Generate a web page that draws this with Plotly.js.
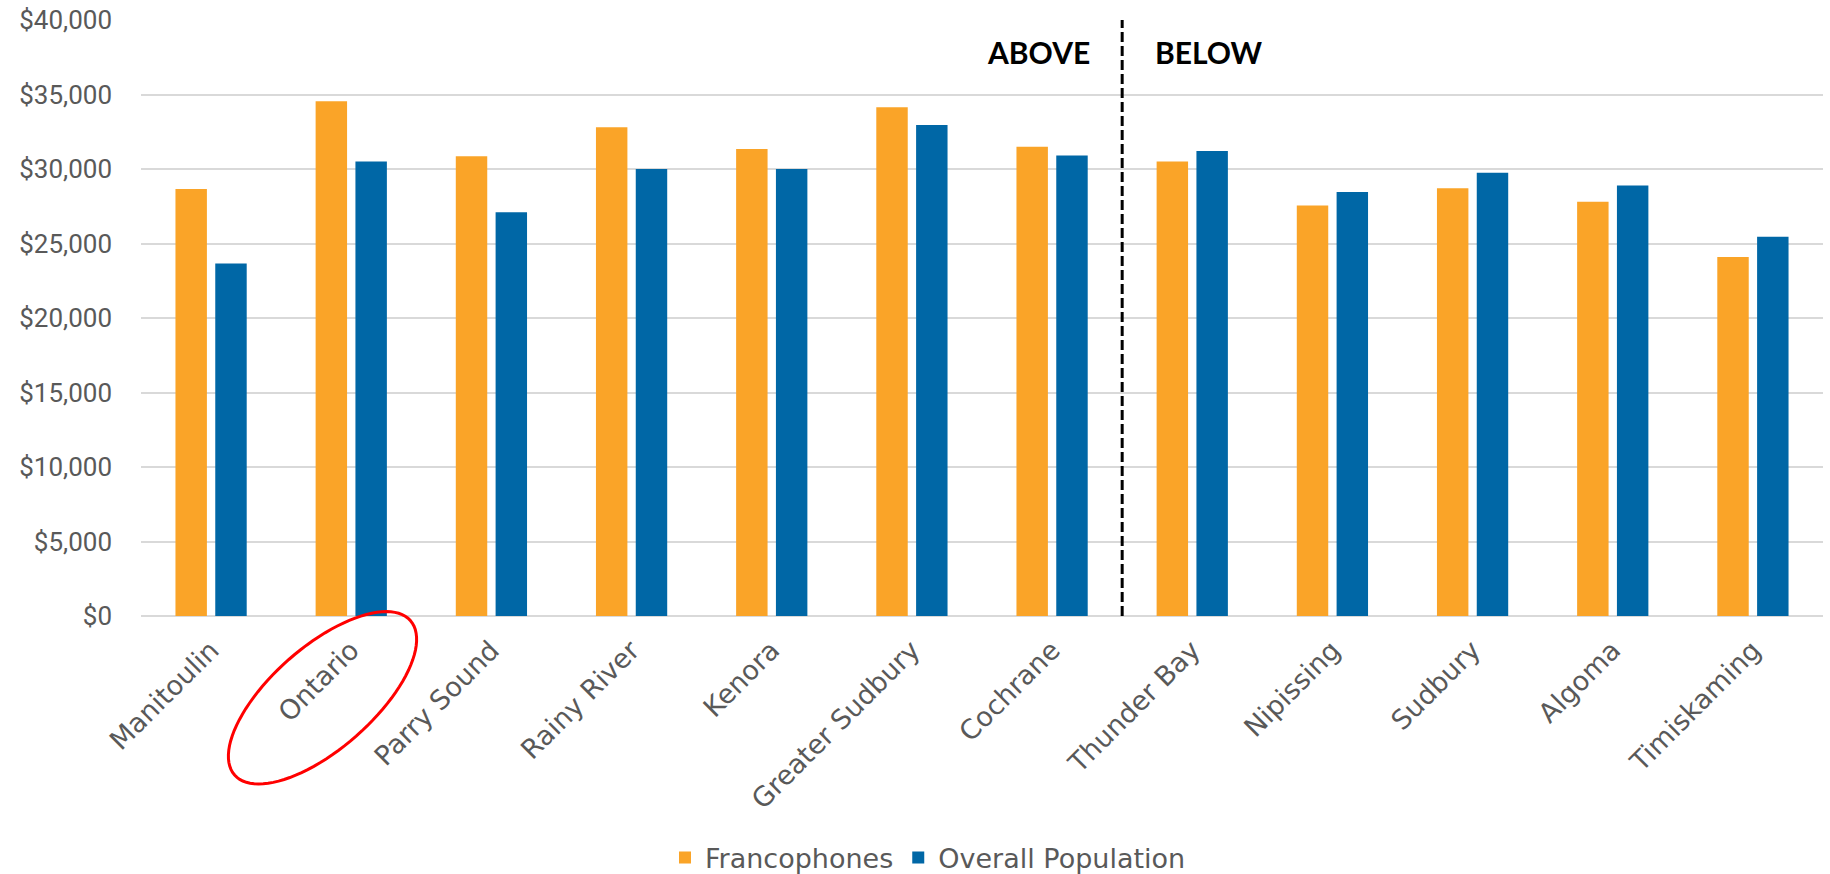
<!DOCTYPE html>
<html>
<head>
<meta charset="utf-8">
<script src="https://cdn.plot.ly/plotly-3.0.1.min.js"></script>
<style>
  html, body { margin: 0; padding: 0; background: #ffffff; }
  #chart { width: 1830px; height: 874px; }
</style>
</head>
<body>
<div id="chart"></div>
<script>
// ---- Data ----
const categories = ['Manitoulin', 'Ontario', 'Parry Sound', 'Rainy River', 'Kenora', 'Greater Sudbury',
                    'Cochrane', 'Thunder Bay', 'Nipissing', 'Sudbury', 'Algoma', 'Timiskaming'];
const francophones = [28650, 34550, 30850, 32800, 31350, 34150, 31500, 30500, 27550, 28700, 27800, 24100];
const overallPopulation = [23650, 30500, 27100, 30000, 30000, 32950, 30900, 31200, 28450, 29750, 28900, 25450];
const seriesNames = ['Francophones', 'Overall Population'];
const yTickValues = [0, 5000, 10000, 15000, 20000, 25000, 30000, 35000, 40000];
const yTickLabels = ['$0', '$5,000', '$10,000', '$15,000', '$20,000', '$25,000', '$30,000', '$35,000', '$40,000'];
const sideLabels = ['ABOVE', 'BELOW'];
const dividerPosition = 6.5; // between Cochrane and Thunder Bay

// ---- Layout geometry (pixels) ----
const W = 1830, H = 874;
const M = { l: 141, r: 7, t: 20, b: 258, autoexpand: false };
const plotW = W - M.l - M.r, plotH = H - M.t - M.b;
const px2paperX = x => (x - M.l) / plotW;
const px2paperY = y => (H - M.b - y) / plotH;

// Red ellipse highlight around the "Ontario" label (decoration)
function ellipsePath(cx, cy, a, b, thetaDeg, n) {
  const th = thetaDeg * Math.PI / 180;
  const pts = [];
  for (let i = 0; i <= n; i++) {
    const t = 2 * Math.PI * i / n;
    const ex = a * Math.cos(t), ey = b * Math.sin(t);
    const x = cx + ex * Math.cos(th) + ey * Math.sin(th);
    const y = cy - ex * Math.sin(th) + ey * Math.cos(th);
    pts.push((i === 0 ? 'M' : 'L') + px2paperX(x).toFixed(5) + ',' + px2paperY(y).toFixed(5));
  }
  return pts.join(' ') + ' Z';
}

const orange = '#FAA428';
const blue = '#0067A6';
const grey = '#595959';

const traces = [
  { type: 'bar', name: seriesNames[0], x: categories, y: francophones, legendgroup: 'fr',
    marker: { color: orange }, hoverinfo: 'x+y' },
  { type: 'bar', name: seriesNames[1], x: categories, y: overallPopulation, legendgroup: 'ov',
    marker: { color: blue }, hoverinfo: 'x+y' }
];

const layout = {
  width: W, height: H,
  margin: M,
  paper_bgcolor: '#ffffff',
  plot_bgcolor: '#ffffff',
  barmode: 'group',
  bargap: 0.432,
  bargroupgap: 0.21,
  showlegend: true,
  legend: {
    orientation: 'h',
    x: px2paperX(928), xanchor: 'center',
    y: px2paperY(858), yanchor: 'middle',
    tracegroupgap: 24,
    font: { family: 'DejaVu Sans', size: 27, color: grey },
    traceorder: 'grouped'
  },
  xaxis: {
    type: 'category',
    tickangle: -45,
    tickfont: { family: 'DejaVu Sans', size: 27, color: grey },
    showgrid: false,
    showline: false,
    ticks: '',
    ticklabelstandoff: 12,
    fixedrange: true
  },
  yaxis: {
    range: [0, 40000],
    tickmode: 'array',
    tickvals: yTickValues,
    ticktext: yTickLabels,
    tickfont: { family: 'Roboto', size: 26, color: grey },
    showgrid: true,
    gridcolor: '#D9D9D9',
    gridwidth: 2,
    zeroline: true,
    zerolinecolor: '#D9D9D9',
    zerolinewidth: 2,
    showline: false,
    ticks: '',
    ticklabelstandoff: 28,
    fixedrange: true
  },
  shapes: [
    { type: 'line', xref: 'x', yref: 'y', x0: dividerPosition, x1: dividerPosition, y0: 0, y1: 40000,
      line: { color: '#000000', width: 3, dash: '10px,4px' } },
    { type: 'path', xref: 'paper', yref: 'paper',
      path: ellipsePath(322.5, 697.8, 117, 51, 41.3, 96),
      line: { color: '#FF0000', width: 3 }, fillcolor: 'rgba(0,0,0,0)' }
  ],
  annotations: [
    { text: sideLabels[0], xref: 'paper', yref: 'paper', x: px2paperX(1038), y: px2paperY(52),
      xanchor: 'center', yanchor: 'middle', showarrow: false,
      font: { family: 'Lato', size: 30, color: '#000000', weight: 'bold' } },
    { text: sideLabels[1], xref: 'paper', yref: 'paper', x: px2paperX(1209), y: px2paperY(52),
      xanchor: 'center', yanchor: 'middle', showarrow: false,
      font: { family: 'Lato', size: 30, color: '#000000', weight: 'bold' } }
  ]
};

Plotly.newPlot('chart', traces, layout, { displayModeBar: false, staticPlot: true });
</script>
</body>
</html>
